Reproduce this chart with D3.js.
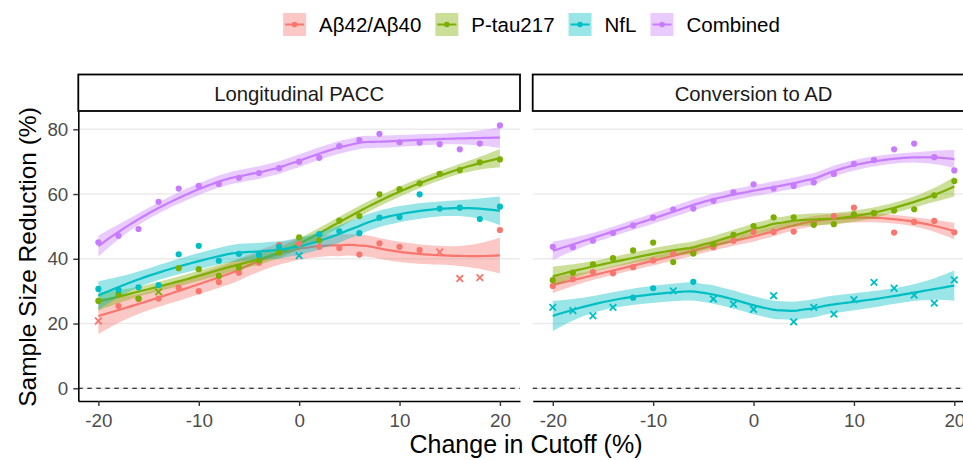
<!DOCTYPE html>
<html><head><meta charset="utf-8">
<script src="https://cdn.jsdelivr.net/npm/d3@7"></script>
<style>
body{margin:0;background:#fff}
svg{display:block}
text{font-family:"Liberation Sans",Arial,Helvetica,sans-serif}
</style>
</head><body>
<svg id="chart" width="963" height="460"></svg>
<script>
// ---------- data ----------
const cutoffs = [-20,-18,-16,-14,-12,-10,-8,-6,-4,-2,0,2,4,6,8,10,12,14,16,18,20];
const seriesNames = ["Aβ42/Aβ40","P-tau217","NfL","Combined"];
const seriesColors = ["#F8766D","#7CAE00","#00BFC4","#C77CFF"];
const panelTitles = ["Longitudinal PACC","Conversion to AD"];
const yTicks = [0,20,40,60,80];
const xTicks = [-20,-10,0,10,20];

// Longitudinal PACC
const paccAb    = [20.8,25.4,27.6,27.7,31.1,30.0,32.8,35.7,38.8,44.2,44.7,43.7,43.3,41.3,44.8,43.7,42.7,42.1,33.9,34.2,48.9];
const paccPtau  = [27.0,29.0,27.7,29.8,37.1,36.8,34.7,37.3,39.5,41.9,46.6,45.7,51.8,53.2,59.9,61.5,63.3,66.2,67.4,69.8,70.7];
const paccNfl   = [30.7,30.4,31.2,31.9,41.4,44.0,39.4,41.5,41.2,43.7,41.0,47.6,48.5,47.9,52.7,52.9,59.9,55.5,55.8,52.3,56.1];
const paccComb  = [45.1,47.1,49.2,57.6,61.7,62.5,63.1,65.0,66.5,68.0,70.0,71.2,74.8,76.7,78.6,76.0,75.9,75.4,73.8,75.6,81.2];
const paccAbShape   = ["x","o","o","o","o","o","o","o","o","o","o","o","o","o","o","o","o","x","x","x","o"];
const paccPtauShape = ["o","o","o","x","o","o","o","o","o","o","o","o","o","o","o","o","o","o","o","o","o"];
const paccNflShape  = ["o","o","o","o","o","o","o","o","o","o","x","o","o","o","o","o","o","o","o","o","o"];
const paccCombShape = ["o","o","o","o","o","o","o","o","o","o","o","o","o","o","o","o","o","o","o","o","o"];

// Conversion to AD
const convAb    = [31.6,33.7,35.9,35.5,37.4,39.5,41.6,42.0,43.6,45.6,48.3,48.3,48.4,50.8,53.2,55.8,54.1,48.1,51.4,51.7,48.2];
const convPtau  = [33.4,35.7,38.3,40.2,42.6,45.0,39.0,41.6,44.5,47.4,50.1,52.8,52.8,50.5,50.7,53.7,54.1,54.9,55.3,59.6,64.0];
const convNfl   = [25.0,24.0,22.4,25.0,28.0,30.9,30.1,32.9,27.6,26.0,24.4,28.6,20.5,25.0,22.9,27.4,32.7,30.9,28.8,26.3,33.5];
const convComb  = [43.7,43.6,45.6,48.0,50.3,52.7,55.2,55.5,57.9,60.5,63.0,61.7,62.5,63.6,66.2,69.3,70.5,73.8,75.6,71.4,67.3];
const convAbShape   = ["o","o","o","o","o","o","o","o","o","o","o","o","o","o","o","o","o","o","o","o","o"];
const convPtauShape = ["o","o","o","o","o","o","o","o","o","o","o","o","o","o","o","o","o","o","o","o","o"];
const convNflShape  = ["x","x","x","x","o","o","x","o","x","x","x","x","x","x","x","x","x","x","x","x","x"];
const convCombShape = ["o","o","o","o","o","o","o","o","o","o","o","o","o","o","o","o","o","o","o","o","o"];

const panels = [
  {title: panelTitles[0], values:[paccAb,paccPtau,paccNfl,paccComb], shapes:[paccAbShape,paccPtauShape,paccNflShape,paccCombShape]},
  {title: panelTitles[1], values:[convAb,convPtau,convNfl,convComb], shapes:[convAbShape,convPtauShape,convNflShape,convCombShape]}
];

// ---------- loess (degree 2, span 0.75, tricube) with 95% CI ----------
function inv3(m){
  const [a,b,c]=m[0],[d,e,f]=m[1],[g,h,i]=m[2];
  const A=e*i-f*h, B=-(d*i-f*g), C=d*h-e*g;
  const det=a*A+b*B+c*C;
  return [[A/det,-(b*i-c*h)/det,(b*f-c*e)/det],
          [B/det,(a*i-c*g)/det,-(a*f-c*d)/det],
          [C/det,-(a*h-b*g)/det,(a*e-b*d)/det]];
}
function loessSmooth(xs, ys, span, nOut){
  const n=xs.length, q=Math.floor(n*span);
  function kern(x0){
    const d=xs.map(x=>Math.abs(x-x0));
    const h=d.slice().sort((a,b)=>a-b)[q-1];
    const w=d.map(v=>v<h?Math.pow(1-Math.pow(v/h,3),3):0);
    const S=[0,0,0,0,0];
    xs.forEach((x,i)=>{const u=x-x0;let p=1;for(let k=0;k<5;k++){S[k]+=w[i]*p;p*=u;}});
    const inv=inv3([[S[0],S[1],S[2]],[S[1],S[2],S[3]],[S[2],S[3],S[4]]]);
    const a=inv[0][0],b=inv[0][1],c=inv[0][2];
    return xs.map((x,i)=>{const u=x-x0;return w[i]*(a+b*u+c*u*u);});
  }
  const L=xs.map(kern);
  const fitted=L.map(r=>d3.sum(r,(l,j)=>l*ys[j]));
  const rss=d3.sum(ys,(y,i)=>(y-fitted[i])**2);
  const IL=L.map((r,i)=>r.map((l,j)=>(i===j?1:0)-l));
  const B=[];
  for(let i=0;i<n;i++){B.push([]);for(let j=0;j<n;j++){let s=0;for(let k=0;k<n;k++)s+=IL[k][i]*IL[k][j];B[i].push(s);}}
  let d1=0;for(let i=0;i<n;i++)d1+=B[i][i];
  let d2=0;for(let i=0;i<n;i++)for(let j=0;j<n;j++)d2+=B[i][j]*B[j][i];
  const s=Math.sqrt(rss/d1), df=d1*d1/d2;
  const z=1.959964;
  const t=z+(z**3+z)/(4*df)+(5*z**5+16*z**3+3*z)/(96*df*df)+(3*z**7+19*z**5+17*z**3-15*z)/(384*df**3);
  const x0s=d3.range(nOut).map(k=>xs[0]+(xs[n-1]-xs[0])*k/(nOut-1));
  return x0s.map(x0=>{
    const l=kern(x0);
    const f=d3.sum(l,(v,j)=>v*ys[j]);
    const se=s*Math.sqrt(d3.sum(l,v=>v*v));
    return {x:x0,y:f,lo:f-t*se,hi:f+t*se};
  });
}

// ---------- layout ----------
const svg=d3.select("#chart");
const panelW=441.7, panelTop=111, panelBottom=401;
const panelLefts=[78.3,532.7];
const y=d3.scaleLinear().domain([-3.92,85.65]).range([panelBottom,panelTop]);
const defs=svg.append("defs");

panels.forEach((p,pi)=>{
  const left=panelLefts[pi];
  const x=d3.scaleLinear().domain([-22,22]).range([left,left+panelW]);
  const g=svg.append("g");
  defs.append("clipPath").attr("id","clip"+pi).append("rect")
    .attr("x",left).attr("y",panelTop).attr("width",panelW).attr("height",panelBottom-panelTop);

  g.append("g").selectAll("line").data(yTicks).join("line")
    .attr("x1",left).attr("x2",left+panelW).attr("y1",d=>y(d)).attr("y2",d=>y(d))
    .attr("stroke","#EBEBEB").attr("stroke-width",1.4);
  g.append("line").attr("x1",left).attr("x2",left+panelW).attr("y1",y(0)).attr("y2",y(0))
    .attr("stroke","#000").attr("stroke-width",1.1).attr("stroke-dasharray","4.5,4.5");

  const plot=g.append("g").attr("clip-path",`url(#clip${pi})`);
  p.values.forEach((vals,si)=>{
    const sm=loessSmooth(cutoffs,vals,0.75,80);
    plot.append("path").datum(sm)
      .attr("d",d3.area().x(d=>x(d.x)).y0(d=>y(d.lo)).y1(d=>y(d.hi)))
      .attr("fill",seriesColors[si]).attr("fill-opacity",0.4);
    plot.append("path").datum(sm)
      .attr("d",d3.line().x(d=>x(d.x)).y(d=>y(d.y)))
      .attr("fill","none").attr("stroke",seriesColors[si]).attr("stroke-width",2.2);
  });
  p.values.forEach((vals,si)=>{
    const pts=cutoffs.map((c,i)=>({x:c,y:vals[i],s:p.shapes[si][i]}));
    plot.append("g").selectAll("circle").data(pts.filter(d=>d.s==="o")).join("circle")
      .attr("cx",d=>x(d.x)).attr("cy",d=>y(d.y)).attr("r",3.1).attr("fill",seriesColors[si]);
    plot.append("g").selectAll("path").data(pts.filter(d=>d.s==="x")).join("path")
      .attr("d",d=>{const cx=x(d.x),cy=y(d.y),r=3.3;return `M${cx-r},${cy-r}L${cx+r},${cy+r}M${cx-r},${cy+r}L${cx+r},${cy-r}`;})
      .attr("stroke",seriesColors[si]).attr("stroke-width",1.8).attr("fill","none");
  });

  g.append("rect").attr("x",left).attr("y",74.5).attr("width",panelW).attr("height",36.5)
    .attr("fill","#fff").attr("stroke","#000").attr("stroke-width",1.8);
  g.append("text").attr("x",left+panelW/2).attr("y",101).attr("text-anchor","middle")
    .attr("font-size",20.3).attr("fill","#1A1A1A").text(p.title);

  const xa=g.append("g").attr("transform",`translate(0,${panelBottom})`)
    .call(d3.axisBottom(x).tickValues(xTicks).tickSize(5).tickSizeOuter(0).tickPadding(3).tickFormat(d=>String(d)));
  xa.select(".domain").attr("stroke","#000").attr("stroke-width",1.6);
  xa.selectAll(".tick line").attr("stroke","#333").attr("stroke-width",1.4);
  xa.selectAll(".tick text").attr("font-size",18.8).attr("fill","#4D4D4D")
    .attr("font-family","Liberation Sans, Arial, sans-serif").attr("dy","0.95em");

  if(pi===0){
    const ya=g.append("g").attr("transform",`translate(${left},0)`)
      .call(d3.axisLeft(y).tickValues(yTicks).tickSize(5).tickSizeOuter(0).tickPadding(5).tickFormat(d=>String(d)));
    ya.select(".domain").attr("stroke","#000").attr("stroke-width",1.6);
    ya.selectAll(".tick line").attr("stroke","#333").attr("stroke-width",1.4);
    ya.selectAll(".tick text").attr("font-size",18.8).attr("fill","#4D4D4D")
      .attr("font-family","Liberation Sans, Arial, sans-serif");
  }
});

svg.append("text").attr("x",526).attr("y",453).attr("text-anchor","middle")
  .attr("font-size",25).attr("fill","#000").text("Change in Cutoff (%)");
svg.append("text").attr("transform","translate(36,257) rotate(-90)").attr("text-anchor","middle")
  .attr("font-size",24.5).attr("fill","#000").text("Sample Size Reduction (%)");

const leg=svg.append("g");
const items=seriesNames.map((name,i)=>{
  const gi=leg.append("g");
  gi.append("rect").attr("x",0).attr("y",13).attr("width",23).attr("height",23)
    .attr("fill",seriesColors[i]).attr("fill-opacity",0.4);
  gi.append("line").attr("x1",2).attr("x2",21).attr("y1",24.5).attr("y2",24.5)
    .attr("stroke",seriesColors[i]).attr("stroke-width",2);
  gi.append("circle").attr("cx",11.5).attr("cy",24.5).attr("r",2.8).attr("fill",seriesColors[i]);
  const t=gi.append("text").attr("x",36).attr("y",32).attr("font-size",20.5).attr("fill","#000").text(name);
  return {g:gi,w:36+t.node().getComputedTextLength()};
});
const gap=14;
const total=d3.sum(items,d=>d.w)+gap*(items.length-1);
let cx=531.5-total/2;
items.forEach(it=>{it.g.attr("transform",`translate(${cx},0)`);cx+=it.w+gap;});
</script>
</body></html>
